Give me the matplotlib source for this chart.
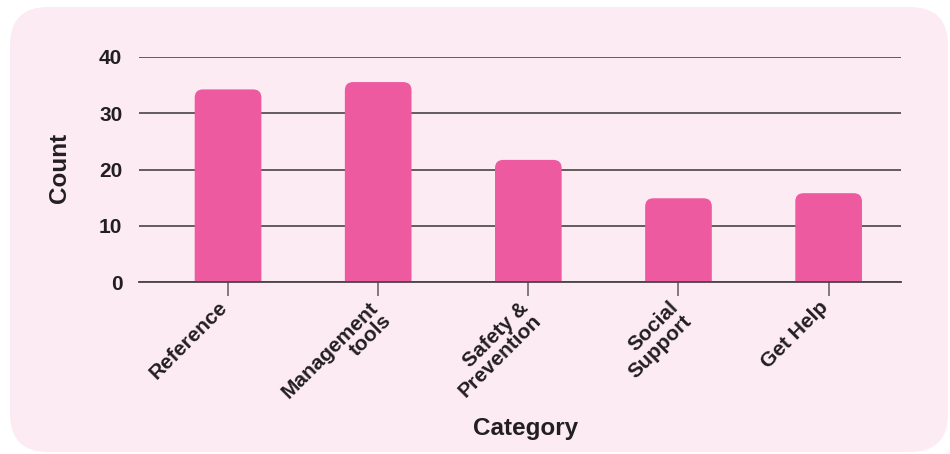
import matplotlib
matplotlib.use('Agg')
import matplotlib.pyplot as plt
from matplotlib.patches import FancyBboxPatch

categories = ['Reference', 'Management\ntools', 'Safety &\nPrevention', 'Social\nSupport', 'Get Help']
counts = [34.2, 35.5, 21.7, 14.9, 15.8]
y_ticks = [0, 10, 20, 30, 40]

BG = '#fcebf3'
BAR = '#ee5a9f'
TXT = '#231f20'
W, H = 950, 454

plt.rcParams['font.family'] = ['Liberation Sans', 'DejaVu Sans']
plt.rcParams['font.weight'] = 'bold'

fig = plt.figure(figsize=(W / 100, H / 100), dpi=100)
fig.patch.set_facecolor('white')

# rounded pink panel behind the chart
panel = FancyBboxPatch((10 / W, 2 / H), 938 / W, 445 / H,
                       boxstyle='round,pad=0,rounding_size=0.04',
                       mutation_aspect=W / H,
                       transform=fig.transFigure, facecolor=BG,
                       edgecolor='none', zorder=-10)
fig.patches.append(panel)

ax = fig.add_axes([139 / W, (H - 282.3) / H, (900.7 - 139) / W, (282.3 - 56.7) / H])
ax.set_zorder(1)
ax.set_facecolor('none')
ax.set_xlim(-0.593, 4.48)
ax.set_ylim(0, 40)

bar_w = 0.444
# pixels per data unit, to keep the corner radius round
px_x = (900.7 - 139) / (4.48 + 0.593)
px_y = (282.3 - 56.7) / 40
for i, v in enumerate(counts):
    box = FancyBboxPatch((i - bar_w / 2, -3), bar_w, v + 3,
                         boxstyle='round,pad=0,rounding_size=0.055',
                         mutation_aspect=px_x / px_y,
                         facecolor=BAR, edgecolor='none', zorder=2)
    ax.add_patch(box)

ax.set_yticks(y_ticks)
ax.yaxis.grid(True, color='#3a3537', linewidth=1.1, zorder=1)
ax.set_axisbelow(True)
ax.axhline(0, color='#4a4446', linewidth=1.3, clip_on=False, zorder=3)
for s in ax.spines.values():
    s.set_visible(False)

# category labels placed by hand so they can sit a bit left of the tick
ax.set_xticks(range(len(categories)))
ax.set_xticklabels([''] * len(categories))
for i, name in enumerate(categories):
    ax.annotate(name, xy=(i, 0), xycoords=('data', 'axes fraction'),
                xytext=(-7.2, -11.2), textcoords='offset points',
                rotation=45, ha='right', va='top', rotation_mode='anchor',
                fontsize=15, color=TXT, fontweight='bold', linespacing=1.0)
ax.tick_params(axis='x', length=10, width=1.2, color='#6d6769', pad=4)
ax.tick_params(axis='y', length=0, pad=12, labelsize=15, labelcolor=TXT)
for lb in ax.get_yticklabels():
    lb.set_fontweight('bold')

ax.set_ylabel('Count', fontsize=17.5, fontweight='bold', color=TXT, va='center')
ax.yaxis.set_label_coords(-0.104, 0.507)
ax.set_xlabel('Category', fontsize=17.5, fontweight='bold', color=TXT, va='center')
ax.xaxis.set_label_coords(0.507, -0.646)

fig.savefig('out.png', dpi=100, facecolor=fig.get_facecolor())
